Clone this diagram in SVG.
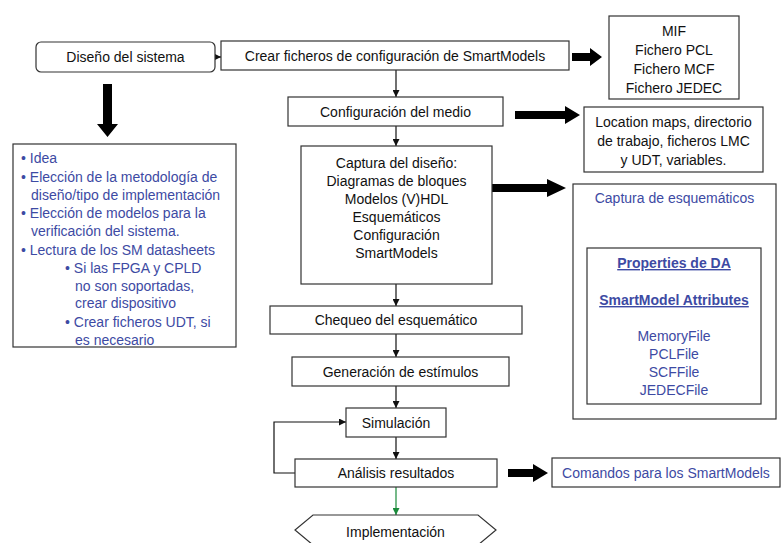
<svg xmlns="http://www.w3.org/2000/svg" width="783" height="543" viewBox="0 0 783 543">
<style>
.b{fill:#fff;stroke:#333;stroke-width:1.2}
.t{font-family:"Liberation Sans",Arial,sans-serif;font-size:14px;fill:#111;text-anchor:middle}
.bl{font-family:"Liberation Sans",Arial,sans-serif;font-size:14px;fill:#3d4aa3}
.blc{font-family:"Liberation Sans",Arial,sans-serif;font-size:14px;fill:#3d4aa3;text-anchor:middle}
.c{fill:none;stroke:#111;stroke-width:1.2}
.thick{fill:#000}
</style>
<defs>
<marker id="ah" viewBox="0 0 10 10" refX="10" refY="5" markerWidth="7" markerHeight="7" markerUnits="userSpaceOnUse" orient="auto"><path d="M0,0 L10,5 L0,10 z" fill="#111"/></marker>
<marker id="ahg" viewBox="0 0 10 10" refX="10" refY="5" markerWidth="7" markerHeight="7" markerUnits="userSpaceOnUse" orient="auto"><path d="M0,0 L10,5 L0,10 z" fill="#1a8a3a"/></marker>
</defs>
<rect width="783" height="543" fill="#fff"/>

<g id="connectors">
<line class="c" x1="215" y1="57" x2="221" y2="57" marker-end="url(#ah)"/>
<line class="c" x1="396" y1="70" x2="396" y2="97" marker-end="url(#ah)"/>
<line class="c" x1="396" y1="126" x2="396" y2="146" marker-end="url(#ah)"/>
<line class="c" x1="396" y1="284" x2="396" y2="306" marker-end="url(#ah)"/>
<line class="c" x1="396" y1="334" x2="396" y2="357" marker-end="url(#ah)"/>
<line class="c" x1="396" y1="386" x2="396" y2="408" marker-end="url(#ah)"/>
<line class="c" x1="396" y1="437" x2="396" y2="459" marker-end="url(#ah)"/>
<polyline class="c" points="295,473 274,473 274,422 346,422" marker-end="url(#ahg)" style="marker-end:url(#ah)"/>
<line x1="396" y1="487" x2="396" y2="515" stroke="#1a8a3a" stroke-width="1.2" marker-end="url(#ahg)"/>
<polygon class="thick" points="103,84 112,84 112,124 118,124 107.5,137 97,124 103,124"/>
<polygon class="thick" points="572,53 590,53 590,48 602,57 590,66 590,61 572,61"/>
<polygon class="thick" points="515,111 565,111 565,106 580,115 565,124 565,119 515,119"/>
<polygon class="thick" points="492,184 547,184 547,179 566,188 547,197 547,192 492,192"/>
<polygon class="thick" points="508,469 533,469 533,464 548,473 533,482 533,477 508,477"/>
</g>

<g id="diseno">
<rect class="b" x="36" y="42" width="179" height="30" rx="5"/>
<text class="t" x="125.5" y="62">Diseño del sistema</text>
</g>
<g id="crear">
<rect class="b" x="221" y="41" width="348" height="29"/>
<text class="t" x="395" y="61">Crear ficheros de configuración de SmartModels</text>
</g>
<g id="mif">
<rect class="b" x="609" y="16" width="130" height="83"/>
<text class="t" x="674" y="36">MIF</text>
<text class="t" x="674" y="55">Fichero PCL</text>
<text class="t" x="674" y="74">Fichero MCF</text>
<text class="t" x="674" y="93">Fichero JEDEC</text>
</g>
<g id="config">
<rect class="b" x="288" y="97" width="215" height="29"/>
<text class="t" x="395.5" y="117">Configuración del medio</text>
</g>
<g id="location">
<rect class="b" x="584" y="107" width="179" height="65"/>
<text class="t" x="673.5" y="127">Location maps, directorio</text>
<text class="t" x="673.5" y="146">de trabajo, ficheros LMC</text>
<text class="t" x="673.5" y="165">y UDT, variables.</text>
</g>
<g id="captura">
<rect class="b" x="301" y="146" width="191" height="138"/>
<text class="t" x="396.5" y="168">Captura del diseño:</text>
<text class="t" x="396.5" y="186">Diagramas de bloques</text>
<text class="t" x="396.5" y="204">Modelos (V)HDL</text>
<text class="t" x="396.5" y="222">Esquemáticos</text>
<text class="t" x="396.5" y="240">Configuración</text>
<text class="t" x="396.5" y="258">SmartModels</text>
</g>
<g id="esquematicos">
<rect class="b" x="573" y="184" width="203" height="235"/>
<text class="blc" x="674.5" y="203">Captura de esquemáticos</text>
<rect class="b" x="587" y="248" width="174" height="156"/>
<text class="blc" x="674" y="268" font-weight="bold" text-decoration="underline">Properties de DA</text>
<text class="blc" x="674" y="305" font-weight="bold" text-decoration="underline">SmartModel Attributes</text>
<text class="blc" x="674" y="341">MemoryFile</text>
<text class="blc" x="674" y="359">PCLFile</text>
<text class="blc" x="674" y="377">SCFFile</text>
<text class="blc" x="674" y="395">JEDECFile</text>
</g>
<g id="bullets">
<rect class="b" x="13" y="144" width="223" height="203"/>
<text class="bl" x="21" y="163">• Idea</text>
<text class="bl" x="21" y="182">• Elección de la metodología de</text>
<text class="bl" x="31" y="200">diseño/tipo de implementación</text>
<text class="bl" x="21" y="218">• Elección de modelos para la</text>
<text class="bl" x="31" y="236">verificación del sistema.</text>
<text class="bl" x="21" y="255">• Lectura de los SM datasheets</text>
<text class="bl" x="65" y="273">• Si las FPGA y CPLD</text>
<text class="bl" x="75" y="291">no son soportadas,</text>
<text class="bl" x="75" y="308">crear dispositivo</text>
<text class="bl" x="65" y="327">• Crear ficheros UDT, si</text>
<text class="bl" x="75" y="345">es necesario</text>
</g>
<g id="chequeo">
<rect class="b" x="270" y="306" width="252" height="28"/>
<text class="t" x="396" y="325">Chequeo del esquemático</text>
</g>
<g id="generacion">
<rect class="b" x="292" y="357" width="217" height="29"/>
<text class="t" x="400.5" y="377">Generación de estímulos</text>
</g>
<g id="simulacion">
<rect class="b" x="346" y="408" width="100" height="29"/>
<text class="t" x="396" y="428">Simulación</text>
</g>
<g id="analisis">
<rect class="b" x="295" y="459" width="202" height="28"/>
<text class="t" x="396" y="478">Análisis resultados</text>
</g>
<g id="comandos">
<rect class="b" x="552" y="458" width="228" height="29"/>
<text class="blc" x="666" y="478">Comandos para los SmartModels</text>
</g>
<g id="implementacion">
<polygon class="b" points="313,515 478,515 496,530 478,545 313,545 295,530"/>
<text class="t" x="395.5" y="537">Implementación</text>
</g>
</svg>
